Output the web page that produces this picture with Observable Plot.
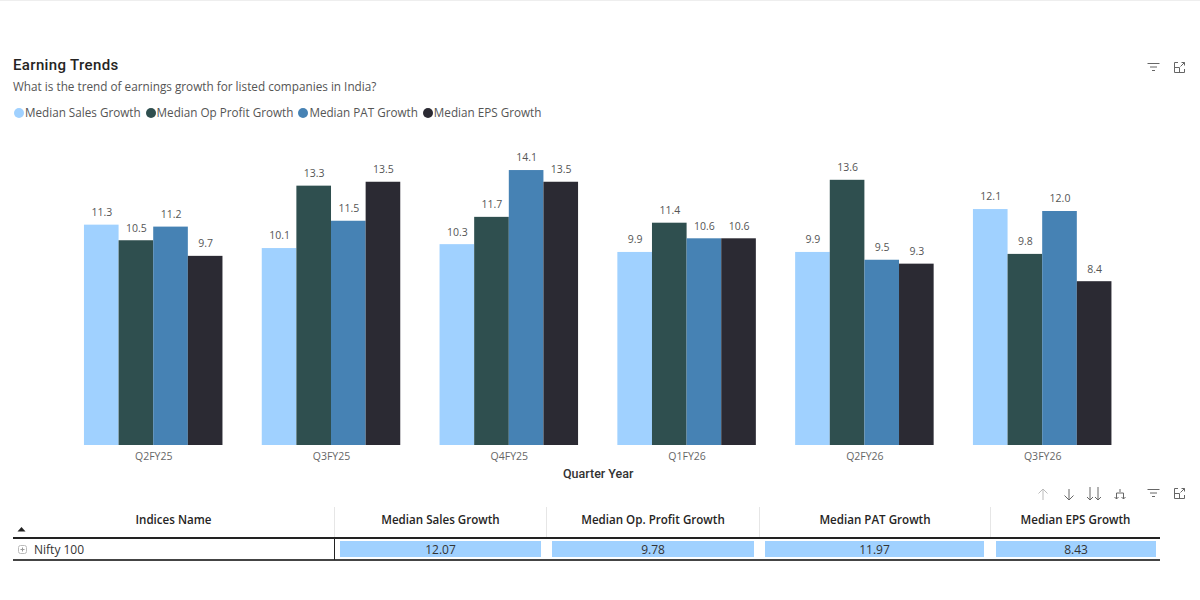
<!DOCTYPE html>
<html><head><meta charset="utf-8">
<script src="https://cdn.jsdelivr.net/npm/d3@7"></script>
<script src="https://cdn.jsdelivr.net/npm/@observablehq/plot@0.6"></script>
<style>
html,body{margin:0;padding:0;background:#fff;width:1200px;height:600px;overflow:hidden}
body{position:relative;font-family:"Open Sans",sans-serif;color:#252423}
.abs{position:absolute;white-space:nowrap}
#title{left:13px;top:55px;font:500 15px/20px "Roboto",sans-serif;letter-spacing:.35px;color:#252423}
#sub{left:13px;top:78px;font:11.75px/17px "Open Sans",sans-serif;color:#555}
#legend{left:14px;top:104px;display:flex;font:11.7px/17px "Open Sans",sans-serif;color:#555}
#legend span.i{display:flex;align-items:center;margin-right:5px}
#legend span.d{width:10px;height:10px;border-radius:50%;margin-right:1px;display:inline-block}
#chart{position:absolute;left:0;top:130px}
.h{top:511px;font:600 11.6px/18px "Open Sans",sans-serif;text-align:center;color:#252423}
.sep{width:1px;top:507px;height:30px;background:#e6e6e6}
.bar{top:541px;height:16px;background:#a0d1ff;text-align:center;font:12px/17px "Open Sans",sans-serif;color:#333}
svg.ic{position:absolute;fill:none;stroke:#666;stroke-width:1}
</style></head><body>
<div class="abs" style="left:0;top:0;width:1200px;height:1px;background:#eee"></div>
<div id="title" class="abs">Earning Trends</div>
<div id="sub" class="abs">What is the trend of earnings growth for listed companies in India?</div>
<div id="legend" class="abs"></div>
<div id="chart"></div>
<div id="table"></div>
<script>
const quarters = ["Q2FY25","Q3FY25","Q4FY25","Q1FY26","Q2FY26","Q3FY26"];
const seriesNames = ["Median Sales Growth","Median Op Profit Growth","Median PAT Growth","Median EPS Growth"];
const seriesColors = ["#a0d1ff","#2f4f4f","#4682b4","#2b2a33"];
const salesGrowth = [11.3,10.1,10.3,9.9,9.9,12.1];
const opProfitGrowth = [10.5,13.3,11.7,11.4,13.6,9.8];
const patGrowth = [11.2,11.5,14.1,10.6,9.5,12.0];
const epsGrowth = [9.7,13.5,13.5,10.6,9.3,8.4];
const tableHeaders = ["Indices Name","Median Sales Growth","Median Op. Profit Growth","Median PAT Growth","Median EPS Growth"];
const tableRowName = "Nifty 100";
const tableValues = ["12.07","9.78","11.97","8.43"];

const allSeries = [salesGrowth,opProfitGrowth,patGrowth,epsGrowth];
const rows = [];
quarters.forEach((q,i)=>seriesNames.forEach((s,j)=>rows.push({q,s,v:allSeries[j][i]})));

const legend = document.getElementById("legend");
seriesNames.forEach((s,i)=>{
  const e=document.createElement("span");e.className="i";
  e.innerHTML=`<span class="d" style="background:${seriesColors[i]}"></span>${s}`;
  legend.appendChild(e);
});

const plot = Plot.plot({
  width:1200,height:360,
  marginTop:22.5,marginBottom:45,marginLeft:48.4,marginRight:53,
  style:{fontFamily:"'Open Sans',sans-serif",background:"transparent"},
  fx:{domain:quarters,paddingInner:0.221,paddingOuter:0.2,label:null,round:false},
  x:{domain:seriesNames,padding:0,axis:null,round:false},
  y:{domain:[0,15],axis:null},
  color:{domain:seriesNames,range:seriesColors},
  marks:[
    Plot.barY(rows,{fx:"q",x:"s",y:"v",fill:"s",inset:0}),
    Plot.text(rows,{fx:"q",x:"s",y:"v",text:d=>d.v.toFixed(1),dy:-12.5,fontSize:10.5,fill:"#555"}),
    Plot.axisFx({anchor:"bottom",tickSize:0,tickPadding:7,fontSize:10.5,fill:"#666",label:null}),
    Plot.axisFx({anchor:"bottom",ticks:[],label:"Quarter Year",labelAnchor:"center",labelArrow:"none",labelOffset:32.5,dx:2,fontSize:12.5,fontWeight:500,fontFamily:"Roboto, sans-serif",fill:"#333",style:{letterSpacing:"0.5px"}})
  ]
});
document.getElementById("chart").appendChild(plot);

const T=document.getElementById("table");
const add=(cls,style,txt)=>{const d=document.createElement("div");d.className=cls;d.style.cssText=style;if(txt!=null)d.textContent=txt;T.appendChild(d);return d;};
const colLeft=[13,335,547,760,991], colRight=[334,546,759,990,1160];
tableHeaders.forEach((h,i)=>add("abs h",`left:${colLeft[i]}px;width:${colRight[i]-colLeft[i]}px`,h));
colRight.slice(0,4).forEach(x=>add("abs sep",`left:${x}px`));
const barL=[340,552,765,996], barR=[541,754,984,1156];
tableValues.forEach((v,i)=>add("abs bar",`left:${barL[i]}px;width:${barR[i]-barL[i]}px`,v));
add("abs","left:13px;top:537px;width:1147px;height:1.5px;background:#222");
add("abs","left:13px;top:559px;width:1147px;height:1.5px;background:#444");
add("abs","left:334px;top:537px;width:1px;height:23px;background:#222");
add("abs","left:34px;top:541px;font:12px/17px 'Open Sans',sans-serif;color:#333",tableRowName);
T.insertAdjacentHTML("beforeend",`
<svg class="ic" style="left:18px;top:545px" width="9" height="9" viewBox="0 0 9 9"><rect x=".5" y=".5" width="8" height="8" rx="2" stroke="#bbb"/><path d="M2.5 4.5h4M4.5 2.5v4" stroke="#999"/></svg>
<svg class="ic" style="left:17px;top:526px" width="9" height="6" viewBox="0 0 9 6"><path d="M4.5 1L8.5 5.5H.5Z" fill="#222" stroke="none"/></svg>
<svg class="ic" style="left:1036px;top:488px" width="14" height="13" viewBox="0 0 14 13"><path d="M7 12V1M2.5 5.5L7 1l4.500 4.500" stroke="#bbb"/></svg>
<svg class="ic" style="left:1062px;top:488px" width="14" height="13" viewBox="0 0 14 13"><path d="M7 1v11M2.500 7.500L7 12l4.500-4.500"/></svg>
<svg class="ic" style="left:1086px;top:486px" width="16" height="15" viewBox="0 0 16 15"><path d="M4 1v13M1 11l3 3 3-3M12 1v13M9 11l3 3 3-3"/></svg>
<svg class="ic" style="left:1113px;top:488px" width="14" height="13" viewBox="0 0 14 13"><path d="M7 1v3M3.500 11V5h7v6M1.500 9l2 2 2-2M8.500 9l2 2 2-2"/></svg>
<svg class="ic" style="left:1147px;top:488px" width="13" height="11" viewBox="0 0 13 11"><path d="M.5 1.500h12M3 5h7M5 8.500h3"/></svg>
<svg class="ic" style="left:1173px;top:487px" width="13" height="13" viewBox="0 0 13 13"><path d="M5 1.500H1.500v10h10V8M1.500 6.500h5v5M7.500 5.500l4-4M8.500 1.500h3v3"/></svg>
<svg class="ic" style="left:1147px;top:62px" width="13" height="11" viewBox="0 0 13 11"><path d="M.5 1.500h12M3 5h7M5 8.500h3"/></svg>
<svg class="ic" style="left:1173px;top:61px" width="13" height="13" viewBox="0 0 13 13"><path d="M5 1.500H1.500v10h10V8M1.500 6.500h5v5M7.500 5.500l4-4M8.500 1.500h3v3"/></svg>`);
</script>
</body></html>
